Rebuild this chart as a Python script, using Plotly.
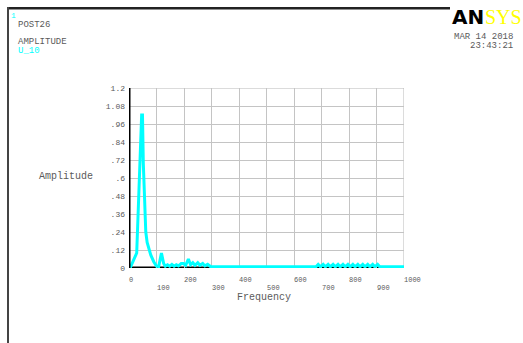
import plotly.graph_objects as go

# ---- data ----
freq = [4, 14, 22, 28, 46, 49, 52, 56, 61, 66, 70, 79, 90, 100, 108, 118, 126, 132,
        140, 148, 156, 164, 172, 180, 190, 198, 206, 216, 224, 232, 240, 250, 258,
        268, 276, 286, 296, 310, 400, 500, 600, 680, 688, 696, 706, 714, 724, 732,
        742, 750, 760, 768, 778, 786, 796, 804, 814, 822, 832, 840, 850, 858, 868,
        876, 886, 894, 904, 912, 925, 1000]
amp = [0.0, 0.04, 0.08, 0.10, 1.02, 1.02, 0.70, 0.45, 0.24, 0.17, 0.14, 0.087, 0.042, 0.012,
       0.01, 0.10, 0.03, 0.012, 0.022, 0.012, 0.024, 0.012, 0.022, 0.014, 0.03, 0.03,
       0.018, 0.06, 0.022, 0.035, 0.018, 0.035, 0.018, 0.03, 0.014, 0.025, 0.01, 0.008,
       0.008, 0.008, 0.008, 0.008, 0.024, 0.008, 0.024, 0.008, 0.024, 0.008, 0.024,
       0.008, 0.024, 0.008, 0.024, 0.008, 0.024, 0.008, 0.024, 0.008, 0.024, 0.008,
       0.024, 0.008, 0.024, 0.008, 0.024, 0.008, 0.024, 0.008, 0.008, 0.008]

y_ticks = [0, 0.12, 0.24, 0.36, 0.48, 0.6, 0.72, 0.84, 0.96, 1.08, 1.2]
y_tick_labels = ["0", ".12", ".24", ".36", ".48", ".6", ".72", ".84", ".96", "1.08", "1.2"]
x_ticks_upper = [0, 200, 400, 600, 800, 1000]
x_ticks_lower = [100, 300, 500, 700, 900]

MONO = "Liberation Mono, Courier New, monospace"
GRAY = "#5a5a5a"

fig = go.Figure()
fig.add_trace(go.Scatter(x=freq, y=amp, mode="lines",
                         line=dict(color="#00ffff", width=3), hoverinfo="skip"))

fig.update_layout(
    width=523, height=343,
    margin=dict(l=129, r=119, t=88, b=75),
    paper_bgcolor="white", plot_bgcolor="white",
    showlegend=False,
    xaxis=dict(range=[0, 1000], tickvals=list(range(0, 1001, 100)),
               showticklabels=False, showgrid=True, gridcolor="#c4c4c4", gridwidth=1,
               zeroline=False, showline=False, ticks="", automargin=False),
    yaxis=dict(range=[0, 1.2], tickvals=y_ticks, ticktext=y_tick_labels,
               showgrid=True, gridcolor="#c4c4c4", gridwidth=1,
               zeroline=False, showline=False, ticks="", ticklabelstandoff=3,
               automargin=False,
               tickfont=dict(family=MONO, size=8, color=GRAY)),
)

# plot border (gray), axes (black)
fig.add_shape(type="rect", xref="x", yref="y", x0=0, x1=1000, y0=0, y1=1.2,
              line=dict(color="#b8b8b8", width=1), layer="below")
fig.add_shape(type="line", xref="x", yref="y", x0=0, x1=0, y0=0, y1=1.2,
              line=dict(color="black", width=3))
fig.add_shape(type="line", xref="x", yref="y", x0=0, x1=1000, y0=0, y1=0,
              line=dict(color="black", width=3), layer="below")

# outer frame lines (paper coordinates relative to plot area)
def px(xp):
    return (xp - 129) / 275.0

def py(yp):
    return (268 - yp) / 180.0

fig.add_shape(type="rect", xref="paper", yref="paper", x0=px(7), x1=px(450), y0=py(9.5), y1=py(7),
              fillcolor="#222222", line=dict(width=0), layer="above")
fig.add_shape(type="line", xref="paper", yref="paper", x0=px(8), x1=px(8), y0=py(7), y1=py(345),
              line=dict(color="#444444", width=2), layer="above")

# x tick labels (two staggered rows, left-aligned at tick)
for v in x_ticks_upper:
    fig.add_annotation(x=v, y=py(274), xref="x", yref="paper", text=str(v), showarrow=False,
                       xanchor="left", yanchor="top", xshift=-2,
                       font=dict(family=MONO, size=7, color=GRAY))
for v in x_ticks_lower:
    fig.add_annotation(x=v, y=py(282), xref="x", yref="paper", text=str(v), showarrow=False,
                       xanchor="left", yanchor="top", xshift=-2,
                       font=dict(family=MONO, size=7, color=GRAY))

# axis titles
fig.add_annotation(x=px(264), y=py(290), xref="paper", yref="paper", text="Frequency",
                   showarrow=False, xanchor="center", yanchor="top",
                   font=dict(family=MONO, size=10, color=GRAY))
fig.add_annotation(x=px(66), y=py(176), xref="paper", yref="paper", text="Amplitude",
                   showarrow=False, xanchor="center", yanchor="middle",
                   font=dict(family=MONO, size=10, color=GRAY))

# header texts
def txt(x, y, s, color=GRAY, size=9, anchor="left"):
    fig.add_annotation(x=px(x), y=py(y), xref="paper", yref="paper", text=s, showarrow=False,
                       xanchor=anchor, yanchor="middle",
                       font=dict(family=MONO, size=size, color=color))

txt(9, 15, "1", color="#00ffff", size=8)
txt(16, 25, "POST26")
txt(16, 42, "AMPLITUDE")
txt(16, 51, "U_10", color="#00ffff")
txt(515, 37, "MAR 14 2018", anchor="right")
txt(515, 46, "23:43:21", anchor="right")

# ANSYS logo
fig.add_annotation(x=px(450), y=py(17), xref="paper", yref="paper", text="<b>AN</b>",
                   showarrow=False, xanchor="left", yanchor="middle",
                   font=dict(family="DejaVu Sans", size=20, color="black"))
fig.add_annotation(x=px(524), y=py(17), xref="paper", yref="paper", text="SYS",
                   showarrow=False, xanchor="right", yanchor="middle",
                   font=dict(family="Liberation Serif, Times New Roman", size=20, color="#ffff00"))

fig.write_html("out.html", config={"displayModeBar": False},
               post_script="document.body.style.margin='0px';")
